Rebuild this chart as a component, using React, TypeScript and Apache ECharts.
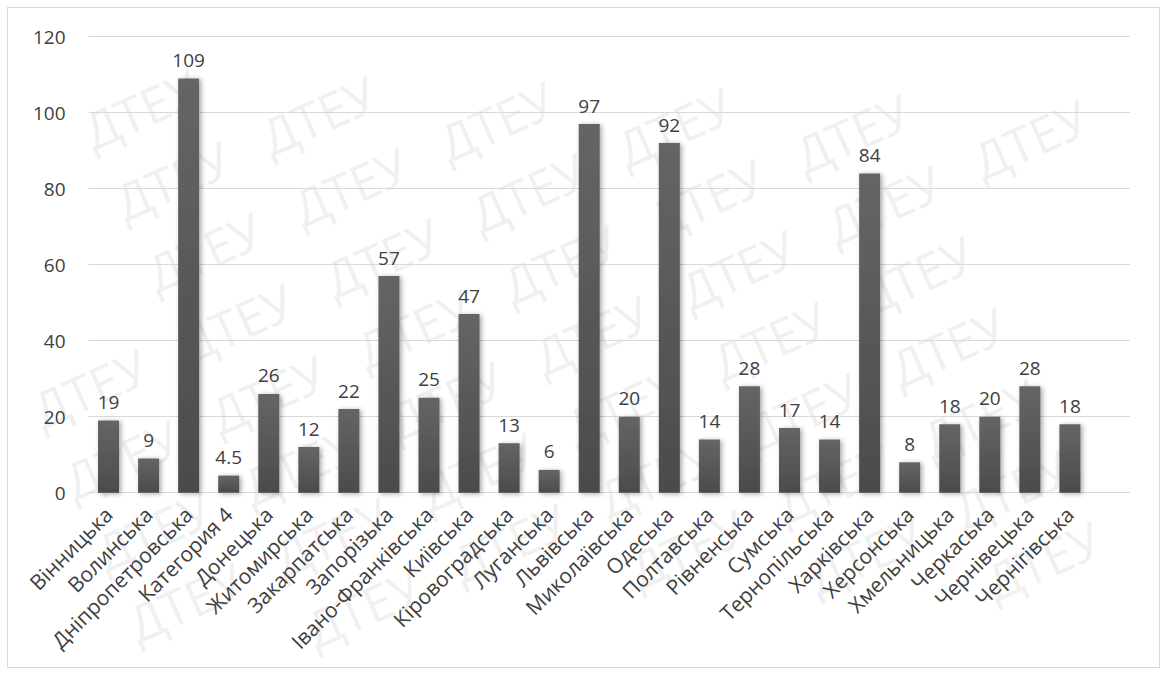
import React, { useEffect, useRef } from "react";
import * as echarts from "echarts";

const categories = [
  "Вінницька", "Волинська", "Дніпропетровська", "Категория 4", "Донецька",
  "Житомирська", "Закарпатська", "Запорізька", "Івано-Франківська", "Київська",
  "Кіровоградська", "Луганська", "Львівська", "Миколаївська", "Одеська",
  "Полтавська", "Рівненська", "Сумська", "Тернопільська", "Харківська",
  "Херсонська", "Хмельницька", "Черкаська", "Чернівецька", "Чернігівська", "",
];
const values: (number | null)[] = [
  19, 9, 109, 4.5, 26, 12, 22, 57, 25, 47, 13, 6, 97, 20, 92, 14, 28, 17, 14, 84,
  8, 18, 20, 28, 18, null,
];
const yTicks = { min: 0, max: 120, interval: 20 };
const watermarkWord = "ДТЕУ";

export default function App() {
  const ref = useRef<HTMLDivElement>(null);
  useEffect(() => {
    if (!ref.current) return;
    const chart = echarts.init(ref.current, null, { renderer: "svg" });
    const font = "'Open Sans', sans-serif";
    const rot = 0.42;
    const c = Math.cos(rot);
    const s = Math.sin(rot);
    const w = 135;
    const wm: any[] = [];
    for (let r = -10; r < 16; r++) {
      for (let k = -4; k < 14; k++) {
        const x = -100 + k * 160 * c + r * 78 * s;
        const y = 120 - k * 160 * s + r * 78 * c;
        if (x < 12 || x + w * c + 25 > 1140 || y - w * s - 25 < 12 || y + 25 > 650) continue;
        wm.push({
          type: "text",
          x,
          y,
          rotation: rot,
          z: -10,
          silent: true,
          style: {
            text: watermarkWord,
            fontSize: 50,
            fontFamily: font,
            textVerticalAlign: "middle",
            fill: "rgba(0,0,0,0.06)",
          },
        });
      }
    }
    chart.setOption({
      animation: false,
      backgroundColor: "#ffffff",
      graphic: wm,
      grid: { left: 80.5, top: 28.7, right: 29, bottom: 174.3, containLabel: false },
      xAxis: {
        type: "category",
        data: categories,
        axisLine: { show: true, lineStyle: { color: "#d9d9d9", width: 1 } },
        axisTick: { show: false },
        axisLabel: {
          interval: 0,
          rotate: 45,
          margin: 18,
          color: "#404040",
          fontFamily: font,
          fontSize: 21,
        },
      },
      yAxis: {
        type: "value",
        min: yTicks.min,
        max: yTicks.max,
        interval: yTicks.interval,
        axisLine: { show: false },
        axisTick: { show: false },
        splitLine: { lineStyle: { color: "#d9d9d9", width: 1 } },
        axisLabel: {
          margin: 23,
          color: "#404040",
          fontFamily: font,
          fontSize: 19,
        },
      },
      series: [
        {
          type: "bar",
          data: values,
          barWidth: 21,
          itemStyle: {
            color: new echarts.graphic.LinearGradient(0, 0, 0, 1, [
              { offset: 0, color: "#656565" },
              { offset: 1, color: "#4b4b4b" },
            ]),
            shadowBlur: 5,
            shadowColor: "rgba(0,0,0,0.35)",
            shadowOffsetX: 2,
            shadowOffsetY: 1,
          },
          label: {
            show: true,
            position: "top",
            distance: 9,
            color: "#404040",
            fontFamily: font,
            fontSize: 19,
          },
        },
      ],
    });
    return () => chart.dispose();
  }, []);
  return (
    <div
      style={{
        position: "absolute",
        left: 7,
        top: 7,
        width: 1153,
        height: 661,
        border: "1px solid #d9d9d9",
        boxSizing: "border-box",
      }}
    >
      <div ref={ref} style={{ width: 1151, height: 659 }} />
    </div>
  );
}
